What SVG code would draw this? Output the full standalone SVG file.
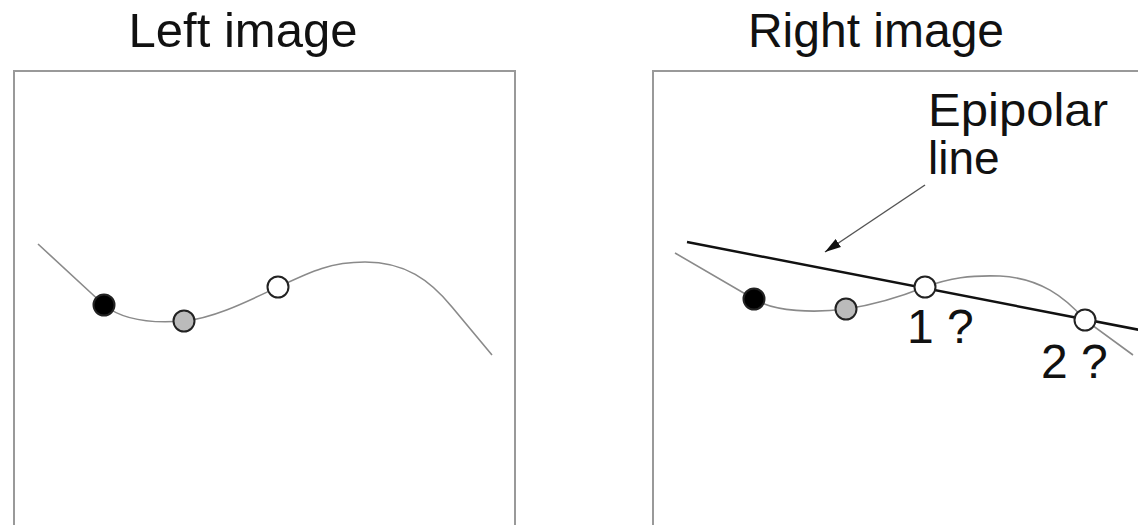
<svg xmlns="http://www.w3.org/2000/svg" width="1138" height="525" viewBox="0 0 1138 525">
<style>
.frame{fill:none;stroke:#999;stroke-width:2}
.curve{fill:none;stroke:#8a8a8a;stroke-width:1.6}
.title{font-family:"Liberation Sans",Arial,sans-serif;font-size:48px;fill:#111}
.epi{font-family:"Liberation Sans",Arial,sans-serif;font-size:46px;fill:#111}
.pt{stroke:#222;stroke-width:2}
</style>
<defs>
<marker id="ah2" viewBox="0 0 10 10" refX="10" refY="5" markerWidth="16" markerHeight="12" orient="auto" markerUnits="userSpaceOnUse" preserveAspectRatio="none">
<path d="M0,1 L10,5 L0,9 z" fill="#111"/>
</marker>
</defs>
<g id="left-image">
<text class="title" x="243" y="47" text-anchor="middle" textLength="229" lengthAdjust="spacingAndGlyphs">Left image</text>
<path class="frame" d="M14,525 V71 H515 V525"/>
<path class="curve" d="M38,244 L104,305 C125,322 160,323 184,321 C215,318 250,300 278,287 C310,272 330,262 365,262 C405,262 430,280 452,307 L492,355"/>
<circle class="pt" cx="104" cy="305" r="10.5" fill="#000"/>
<circle class="pt" cx="184" cy="321" r="10.5" fill="#bbb" stroke="#555"/>
<circle class="pt" cx="278" cy="287" r="10.5" fill="#fff"/>
</g>
<g id="right-image">
<text class="title" x="876" y="47" text-anchor="middle">Right image</text>
<path class="frame" d="M653,525 V71 H1140"/>
<path class="curve" d="M675,253 L754,299 C775,312 815,313 846,309 C880,304 905,295 925,287 C950,278 970,275 1000,276 C1040,278 1065,297 1085,320 L1133,355"/>
<line x1="687" y1="242" x2="1140" y2="330" stroke="#111" stroke-width="2.5"/>
<circle class="pt" cx="754" cy="299" r="10.5" fill="#000"/>
<circle class="pt" cx="846" cy="309" r="10.5" fill="#bbb" stroke="#555"/>
<circle class="pt" cx="925" cy="287" r="10.5" fill="#fff"/>
<circle class="pt" cx="1085" cy="320" r="10.5" fill="#fff"/>
<text class="title" x="907" y="343">1 ?</text>
<text class="title" x="1041" y="378">2 ?</text>
</g>
<g id="epipolar-label">
<text class="epi" x="928" y="126" textLength="180" lengthAdjust="spacingAndGlyphs">Epipolar</text>
<text class="epi" x="928" y="174">line</text>
</g>
<g id="connectors">
<line x1="925" y1="185" x2="825" y2="252" stroke="#555" stroke-width="1.5" marker-end="url(#ah2)"/>
</g>
</svg>
